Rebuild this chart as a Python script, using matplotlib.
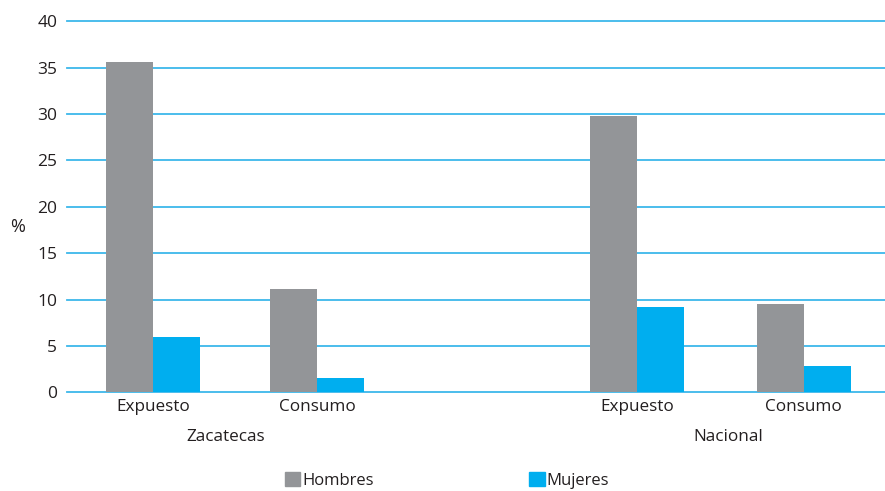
import numpy as np
import matplotlib.pyplot as plt
from matplotlib.patches import Patch
from matplotlib.transforms import blended_transform_factory

plt.rcParams['font.family'] = ['Open Sans', 'DejaVu Sans']

grupos = ['Zacatecas', 'Nacional']
categorias = ['Expuesto', 'Consumo', 'Expuesto', 'Consumo']
hombres = [35.6, 11.1, 29.8, 9.5]
mujeres = [6.0, 1.5, 9.2, 2.8]

gris = '#939598'
azul = '#00AEEF'
linea = '#3DB8EA'
texto = '#231f20'

x = np.array([0, 1, 2.95, 3.965])
w = 0.285

fig = plt.figure(figsize=(8.85, 4.91), dpi=100)
ax = fig.add_axes([0.0757, 0.201, 0.9243, 0.756])

ax.bar(x - w / 2, hombres, w, color=gris, zorder=3)
ax.bar(x + w / 2, mujeres, w, color=azul, zorder=3)

ax.set_ylim(0, 40)
ax.set_xlim(-0.524, 4.46)
ax.set_yticks(range(0, 41, 5))
for v in range(0, 41, 5):
    ax.axhline(v, color=linea, lw=1.3, zorder=1, clip_on=False)

for name in ['bottom', 'left', 'top', 'right']:
    ax.spines[name].set_visible(False)
ax.tick_params(axis='y', length=0, pad=7, labelsize=12.5, labelcolor=texto)
ax.tick_params(axis='x', length=0, pad=5, labelsize=12.3, labelcolor=texto)
ax.set_xticks(x)
ax.set_xticklabels(categorias)

trans = blended_transform_factory(ax.transData, ax.transAxes)
ax.text(x[:2].mean() - 0.06, -0.098, grupos[0], transform=trans, ha='center', va='top',
        fontsize=12.3, color=texto)
ax.text(x[2:].mean() + 0.05, -0.098, grupos[1], transform=trans, ha='center', va='top',
        fontsize=12.3, color=texto)

fig.text(0.02, 0.537, '%', fontsize=13, color=texto, ha='center', va='center')

handles = [Patch(color=gris, label='Hombres'), Patch(color=azul, label='Mujeres')]
fig.legend(handles=handles, loc='center', bbox_to_anchor=(0.505, 0.022), ncol=2,
           frameon=False, fontsize=12, handlelength=0.95, handleheight=0.95,
           handletextpad=0.12, columnspacing=9.3, borderaxespad=0, borderpad=0,
           labelcolor=texto)

fig.savefig('out.png', dpi=100)
